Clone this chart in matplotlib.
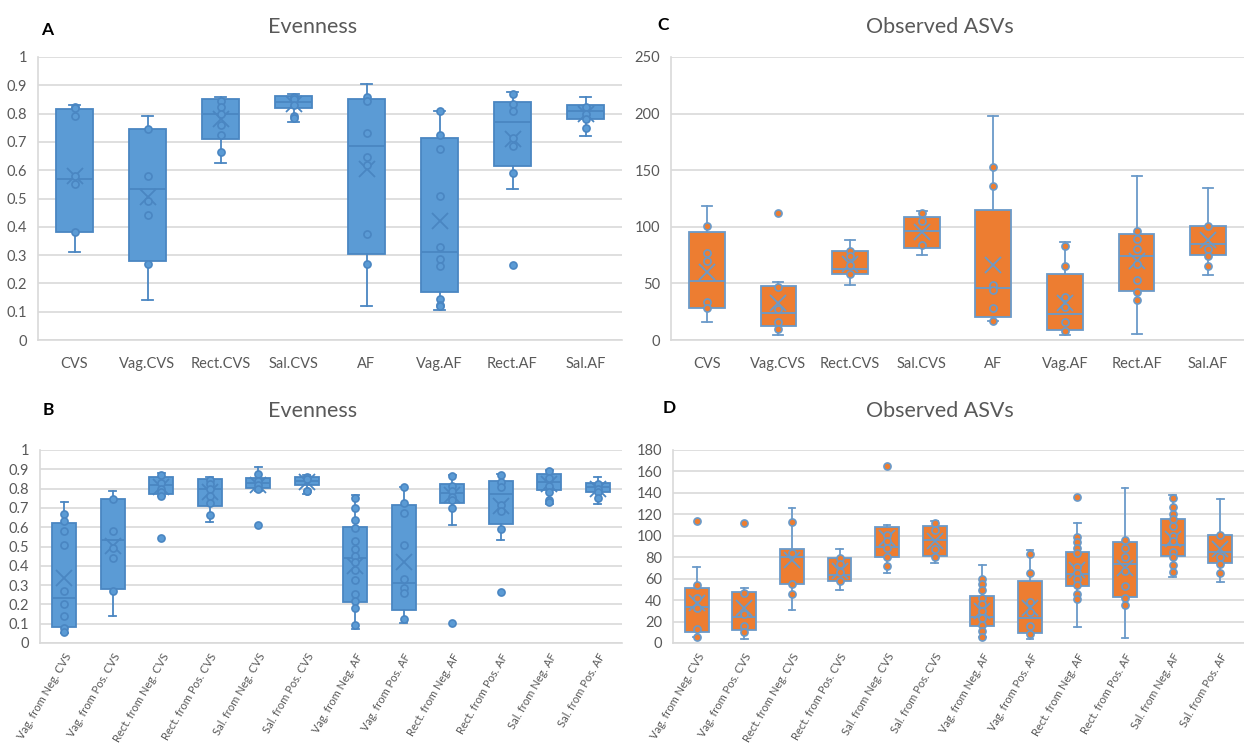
import matplotlib
matplotlib.use("Agg")
import matplotlib.pyplot as plt

plt.rcParams['font.family'] = ['Lato', 'DejaVu Sans']

# ---- panel A / C categories
cats_top = ['CVS', 'Vag.CVS', 'Rect.CVS', 'Sal.CVS', 'AF', 'Vag.AF', 'Rect.AF', 'Sal.AF']

# Evenness (A)
a_min = [0.31, 0.14, 0.625, 0.77, 0.12, 0.105, 0.535, 0.72]
a_q1 = [0.38, 0.28, 0.71, 0.82, 0.305, 0.17, 0.615, 0.78]
a_med = [0.57, 0.535, 0.80, 0.84, 0.685, 0.31, 0.77, 0.81]
a_q3 = [0.815, 0.745, 0.85, 0.862, 0.85, 0.715, 0.84, 0.83]
a_max = [0.83, 0.79, 0.86, 0.87, 0.905, 0.81, 0.875, 0.86]
a_mean = [0.58, 0.505, 0.78, 0.835, 0.605, 0.42, 0.71, 0.80]
a_pts = [
    [0.825, 0.82, 0.79, 0.58, 0.55, 0.38],
    [0.745, 0.58, 0.49, 0.44, 0.27],
    [0.845, 0.825, 0.80, 0.76, 0.725, 0.665],
    [0.86, 0.85, 0.83, 0.79, 0.785],
    [0.86, 0.845, 0.73, 0.645, 0.62, 0.375, 0.27],
    [0.81, 0.725, 0.675, 0.51, 0.33, 0.285, 0.26, 0.145, 0.125, 0.12],
    [0.87, 0.835, 0.81, 0.715, 0.685, 0.59, 0.265],
    [0.825, 0.80, 0.78, 0.75],
]

# Observed ASVs (C)
c_min = [16, 4, 49, 75, 17, 4, 5, 57]
c_q1 = [28, 12, 58, 81, 20, 9, 43, 75]
c_med = [52, 24, 63, 96, 46, 23, 74, 85]
c_q3 = [95, 48, 79, 109, 115, 58, 94, 101]
c_max = [118, 51, 88, 114, 198, 87, 145, 134]
c_mean = [60, 33, 67, 95, 66, 33, 70, 88]
c_pts = [
    [101, 77, 70, 34, 28],
    [112, 47, 27, 16, 10],
    [79, 74, 66, 58],
    [112, 105, 84],
    [153, 136, 49, 44, 28, 17],
    [83, 65, 38, 29, 16, 8],
    [96, 89, 80, 67, 53, 42, 35],
    [101, 80, 74, 65],
]

# ---- panel B / D categories
cats_bot = ['Vag. from Neg. CVS', 'Vag. from Pos. CVS', 'Rect. from Neg. CVS',
            'Rect. from Pos. CVS', 'Sal. from Neg. CVS', 'Sal. from Pos. CVS',
            'Vag. from Neg. AF', 'Vag. from Pos. AF', 'Rect. from Neg. AF',
            'Rect. from Pos. AF', 'Sal. from Neg. AF', 'Sal. from Pos. AF']

# Evenness (B)
b_min = [0.05, 0.14, 0.76, 0.625, 0.785, 0.77, 0.07, 0.105, 0.61, 0.535, 0.72, 0.72]
b_q1 = [0.085, 0.28, 0.77, 0.71, 0.805, 0.82, 0.21, 0.17, 0.725, 0.615, 0.795, 0.78]
b_med = [0.235, 0.535, 0.82, 0.80, 0.83, 0.84, 0.44, 0.31, 0.775, 0.77, 0.835, 0.81]
b_q3 = [0.62, 0.745, 0.86, 0.85, 0.855, 0.862, 0.60, 0.715, 0.825, 0.84, 0.875, 0.83]
b_max = [0.73, 0.79, 0.88, 0.86, 0.91, 0.87, 0.765, 0.81, 0.87, 0.875, 0.895, 0.86]
b_mean = [0.335, 0.505, 0.81, 0.78, 0.82, 0.835, 0.40, 0.42, 0.765, 0.71, 0.825, 0.80]
b_pts = [
    [0.67, 0.63, 0.58, 0.51, 0.27, 0.20, 0.14, 0.08, 0.055],
    [0.745, 0.58, 0.49, 0.44, 0.27],
    [0.87, 0.83, 0.80, 0.78, 0.76, 0.545],
    [0.845, 0.825, 0.80, 0.76, 0.725, 0.665],
    [0.875, 0.84, 0.82, 0.80, 0.61],
    [0.86, 0.85, 0.79, 0.785],
    [0.75, 0.70, 0.635, 0.595, 0.53, 0.485, 0.45, 0.42, 0.38, 0.325, 0.255, 0.22, 0.18, 0.095],
    [0.81, 0.725, 0.675, 0.51, 0.33, 0.285, 0.26, 0.125],
    [0.865, 0.815, 0.79, 0.755, 0.74, 0.70, 0.105],
    [0.87, 0.835, 0.81, 0.715, 0.685, 0.59, 0.265],
    [0.89, 0.855, 0.815, 0.78, 0.74, 0.73],
    [0.825, 0.80, 0.78, 0.75],
]

# Observed ASVs (D)
d_min = [6, 4, 31, 49, 65, 75, 6, 4, 15, 5, 62, 57]
d_q1 = [10, 12, 55, 58, 80, 81, 16, 9, 53, 43, 81, 75]
d_med = [34, 24, 80, 63, 90, 96, 24, 23, 64, 74, 91, 85]
d_q3 = [51, 48, 88, 79, 108, 109, 44, 58, 85, 94, 116, 101]
d_max = [71, 51, 126, 88, 110, 114, 73, 87, 112, 145, 138, 134]
d_mean = [37, 33, 77, 67, 98, 95, 30, 33, 68, 70, 97, 88]
d_pts = [
    [114, 54, 42, 33, 13, 6],
    [112, 47, 27, 16, 10],
    [113, 84, 55, 46],
    [79, 74, 66, 58],
    [165, 101, 95, 89, 80, 72],
    [112, 105, 88, 80],
    [60, 55, 49, 42, 36, 30, 23, 17, 11, 6],
    [83, 65, 38, 29, 16, 8],
    [136, 99, 94, 89, 84, 71, 65, 60, 54, 46, 41],
    [96, 89, 80, 67, 53, 42, 35],
    [135, 127, 120, 116, 109, 100, 95, 85, 80, 73, 66],
    [101, 80, 74, 65],
]

BLUE = '#5B9BD5'
BLUE_EDGE = '#4A86C2'
ORANGE = '#ED7D31'
ORANGE_EDGE = '#6A9AC9'
GRID = '#D9D9D9'
TXT = '#595959'

W, H = 1244, 743
fig = plt.figure(figsize=(W / 100, H / 100), dpi=100)


def axes_px(l, t, r, b):
    return fig.add_axes([l / W, 1 - b / H, (r - l) / W, (b - t) / H])


def draw_box(ax, labels, mins, q1s, meds, q3s, maxs, means, pts, fill, edge,
             ylim, ystep, rot=False):
    stats = []
    for i in range(len(labels)):
        stats.append(dict(whislo=mins[i], q1=q1s[i], med=meds[i], q3=q3s[i],
                          whishi=maxs[i], mean=means[i], fliers=[], label=labels[i]))
    n = len(labels)
    pos = list(range(1, n + 1))
    ax.bxp(stats, positions=pos, widths=0.5, capwidths=0.14, patch_artist=True,
           showmeans=True, showfliers=False,
           boxprops=dict(facecolor=fill, edgecolor=edge, linewidth=1.3),
           whiskerprops=dict(color=edge, linewidth=1.3),
           capprops=dict(color=edge, linewidth=1.3),
           medianprops=dict(color=edge, linewidth=1.3),
           meanprops=dict(marker='x', markeredgecolor=edge, markersize=11,
                          markeredgewidth=1.3))
    for i, p in enumerate(pts):
        ax.scatter([pos[i]] * len(p), p, s=26, facecolor=fill, edgecolor=edge,
                   linewidth=1.2, zorder=4)
    ax.set_xlim(0.5, n + 0.5)
    ax.set_ylim(*ylim)
    ticks = []
    v = ylim[0]
    while v <= ylim[1] + 1e-9:
        ticks.append(round(v, 2))
        v += ystep
    ax.set_yticks(ticks)
    ax.set_yticklabels(['%g' % t for t in ticks])
    ax.yaxis.grid(True, color=GRID, linewidth=1.2)
    ax.set_axisbelow(True)
    for s in ['top', 'right']:
        ax.spines[s].set_visible(False)
    for s in ['left', 'bottom']:
        ax.spines[s].set_color(GRID)
        ax.spines[s].set_linewidth(1.2)
    ax.tick_params(axis='both', length=0, colors=TXT, labelsize=10.5)
    ax.tick_params(axis='y', pad=8)
    ax.set_xticks(pos)
    if rot:
        ax.set_xticklabels(labels, rotation=60, ha='right', rotation_mode='anchor',
                           fontsize=8)
        ax.tick_params(axis='x', pad=6)
    else:
        ax.set_xticklabels(labels)
        ax.tick_params(axis='x', pad=12)


axA = axes_px(38, 57, 622, 340)
axC = axes_px(671, 57, 1244, 340)
axB = axes_px(40, 450, 622, 643)
axD = axes_px(673, 450, 1244, 643)

draw_box(axA, cats_top, a_min, a_q1, a_med, a_q3, a_max, a_mean, a_pts,
         BLUE, BLUE_EDGE, (0, 1), 0.1)
draw_box(axC, cats_top, c_min, c_q1, c_med, c_q3, c_max, c_mean, c_pts,
         ORANGE, ORANGE_EDGE, (0, 250), 50)
draw_box(axB, cats_bot, b_min, b_q1, b_med, b_q3, b_max, b_mean, b_pts,
         BLUE, BLUE_EDGE, (0, 1), 0.1, rot=True)
draw_box(axD, cats_bot, d_min, d_q1, d_med, d_q3, d_max, d_mean, d_pts,
         ORANGE, ORANGE_EDGE, (0, 180), 20, rot=True)

# titles and panel letters, centred on the chart area like Excel
titles = [('Evenness', 313, 27), ('Observed ASVs', 940, 27),
          ('Evenness', 313, 411), ('Observed ASVs', 940, 411)]
for t, x, y in titles:
    fig.text(x / W, 1 - y / H, t, color=TXT, fontsize=15.5, ha='center', va='center')

letters = [('A', 41, 30), ('C', 657, 25), ('B', 43, 410), ('D', 663, 408)]
for t, x, y in letters:
    fig.text(x / W, 1 - y / H, t, color='black', fontsize=12.5, fontweight='bold',
             ha='left', va='center')

fig.savefig('out.png', dpi=100)
